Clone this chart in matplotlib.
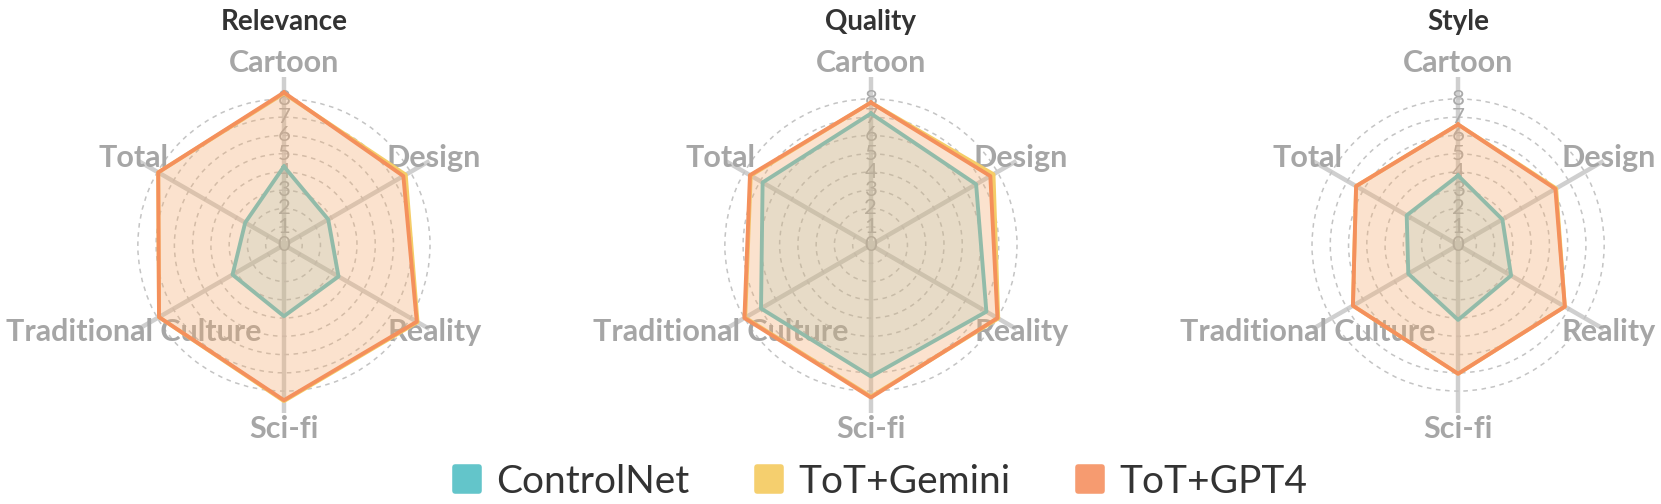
import numpy as np
import matplotlib.pyplot as plt
from matplotlib.lines import Line2D
from matplotlib.markers import MarkerStyle

plt.rcParams['font.family'] = ['Lato', 'DejaVu Sans']

# axes go clockwise from the top
categories = ['Cartoon', 'Design', 'Reality', 'Sci-fi', 'Traditional Culture', 'Total']
panel_titles = ['Relevance', 'Quality', 'Style']
series_names = ['ControlNet', 'ToT+Gemini', 'ToT+GPT4']
tick_values = [0, 1, 2, 3, 4, 5, 6, 7, 8]

relevance_controlnet = [4.3, 2.8, 3.45, 3.9, 3.25, 2.45]
relevance_gemini = [8.3, 7.7, 8.45, 8.55, 7.9, 7.95]
relevance_gpt4 = [8.35, 7.55, 8.4, 8.5, 7.9, 7.95]

quality_controlnet = [7.2, 6.65, 7.3, 7.2, 6.95, 6.85]
quality_gemini = [7.8, 7.75, 8.05, 8.3, 7.95, 7.6]
quality_gpt4 = [7.8, 7.55, 8.0, 8.35, 8.0, 7.65]

style_controlnet = [3.8, 2.8, 3.35, 4.1, 3.15, 3.25]
style_gemini = [6.6, 6.2, 6.75, 7.05, 6.65, 6.45]
style_gpt4 = [6.6, 6.15, 6.75, 7.05, 6.65, 6.45]

panels = [
    [relevance_controlnet, relevance_gemini, relevance_gpt4],
    [quality_controlnet, quality_gemini, quality_gpt4],
    [style_controlnet, style_gemini, style_gpt4],
]

line_colors = ['#62c4c8', '#f5cd68', '#f4905c']
fill_colors = ['#63c5ca', '#f5cf6e', '#f69b70']
fill_alpha = [0.19, 0.15, 0.22]

rmax = 9.2
angles = np.linspace(0, 2 * np.pi, len(categories), endpoint=False)
angles_closed = np.append(angles, angles[0])

fig = plt.figure(figsize=(16.61, 5.04), dpi=100)
fig.patch.set_facecolor('white')

lefts = [0.0698, 0.4232, 0.7767]
w = 336 / 1661
h = 336 / 504
bottom = 91 / 504

label_r = [9.95, 9.5, 9.5, 10.05, 9.5, 9.5]

for k, (title, data) in enumerate(zip(panel_titles, panels)):
    ax = fig.add_axes([lefts[k], bottom, w, h], projection='polar')
    ax.set_theta_zero_location('N')
    ax.set_theta_direction(-1)
    ax.set_ylim(0, rmax)
    ax.set_axisbelow(True)
    ax.patch.set_alpha(0)
    ax.spines['polar'].set_visible(False)

    ax.set_xticks(angles)
    ax.set_xticklabels([])
    ax.xaxis.grid(True, color='#cfcfcf', linewidth=3.2, linestyle='-')
    ax.set_yticks(tick_values[1:])
    ax.set_yticklabels([])
    ax.yaxis.grid(True, color='#c4c4c4', linewidth=1.1, linestyle=(0, (3, 3)))
    ax.tick_params(length=0)

    for v in tick_values:
        ax.text(0, v, str(v), ha='center', va='center', fontsize=16,
                color='#aaaaaa', zorder=0.9)

    for ang, cat, r in zip(angles, categories, label_r):
        ax.text(ang, r, cat, ha='center', va='center', fontsize=22,
                fontweight='bold', color='#a6a6a6', clip_on=False, zorder=0.9)

    # each fill covers the series drawn before it
    for i, (vals, lc, fc, a) in enumerate(zip(data, line_colors, fill_colors, fill_alpha)):
        v = np.append(vals, vals[0])
        ax.fill(angles_closed, v, color=fc, alpha=a, zorder=1 + 2 * i, linewidth=0)
        ax.plot(angles_closed, v, color=lc, linewidth=2.8, zorder=2 + 2 * i)

    ax.text(0.5, 1.165, title, transform=ax.transAxes, ha='center', va='center',
            fontsize=20, fontweight='bold', color='#333333')

handles = [Line2D([], [], linestyle='none',
                  marker=MarkerStyle('s', joinstyle='round'), markersize=17,
                  markerfacecolor=c, markeredgecolor=c, markeredgewidth=4)
           for c in fill_colors]
fig.legend(handles, series_names, loc='center', bbox_to_anchor=(0.53, 0.044),
           ncol=3, frameon=False, fontsize=28, handlelength=0.7,
           handletextpad=0.4, columnspacing=1.7, labelcolor='#333333')

fig.savefig('out.png', dpi=100, facecolor=fig.get_facecolor())
